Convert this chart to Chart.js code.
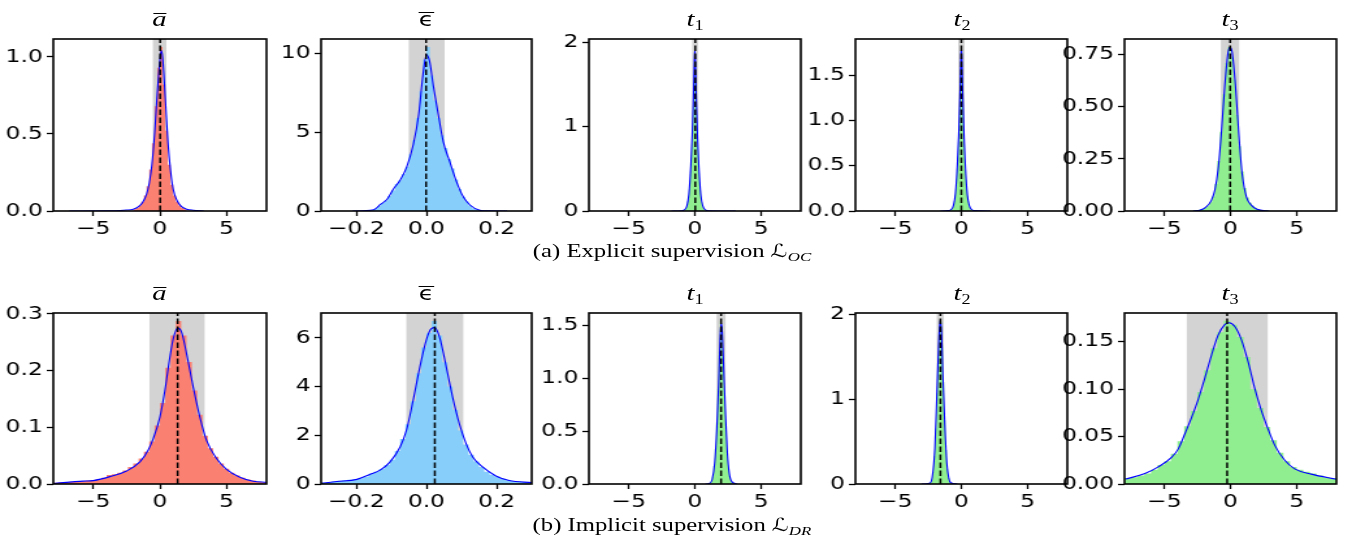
<!DOCTYPE html>
<html>
<head>
<meta charset="utf-8">
<title>Parameter distributions</title>
<script src="https://cdn.jsdelivr.net/npm/chart.js@4.4.1/dist/chart.umd.min.js"></script>
<style>
  html, body { margin: 0; padding: 0; background: #fff; }
  body { width: 1347px; height: 549px; overflow: hidden; position: relative; }
  #fig { position: absolute; left: 0; top: 0; height: 549px; transform-origin: 0 0; }
  #fig canvas { position: absolute; }
  .ttl { position: absolute; width: 100px; text-align: center; font: italic 22px "Liberation Serif", serif; line-height: 22px; color: #000; white-space: nowrap; }
  .ov { display: inline-block; position: relative; }
  .ov::before { content: ""; position: absolute; left: 1px; right: 0; top: 5px; border-top: 1.3px solid #000; }
  .eps { font: normal 19px "DejaVu Sans", sans-serif; line-height: 22px; }
  .eps::before { top: 4px; left: 0; right: 0; }
  .sub { font-style: normal; font-size: 14px; position: relative; top: 4px; }
  .cap { position: absolute; width: 400px; text-align: center; font: 19px "Liberation Serif", serif; line-height: 19px; color: #000; white-space: nowrap; }
  .cal { font-family: "DejaVu Sans", sans-serif; font-style: normal; font-size: 18px; }
  .cap .sub { font-style: italic; font-size: 13px; top: 4px; }
</style>
</head>
<body>
<div id="fig"></div>
<script>
// the figure is laid out narrow and stretched sideways as a whole
const STRETCH = 1.3;
const AXIS_W = 50, AXIS_H = 30, PAD_T = 12, PAD_R = 4;

const xTicksWide = [-5, 0, 5];
const xLabelsWide = ['−5', '0', '5'];
const xTicksEps = [-0.2, 0, 0.2];
const xLabelsEps = ['−0.2', '0.0', '0.2'];

// ---- (a) explicit supervision ----
// a-bar
const expAKdeX = [-6.8, -4, -3, -2.5, -2, -1.6, -1.3, -1.0, -0.8, -0.6, -0.4, -0.2, 0, 0.1, 0.2, 0.4, 0.6, 0.8, 1.0, 1.3, 1.6, 2, 2.5, 3.3];
const expAKdeY = [0, 0.001, 0.003, 0.006, 0.012, 0.028, 0.055, 0.11, 0.18, 0.3, 0.5, 0.76, 0.98, 1.04, 1.0, 0.74, 0.45, 0.26, 0.14, 0.065, 0.03, 0.012, 0.005, 0];
const expAHist = [0.012, 0.02, 0.035, 0.06, 0.1, 0.16, 0.27, 0.44, 0.68, 0.93, 1.064, 0.82, 0.52, 0.3, 0.17, 0.1, 0.06, 0.035, 0.02, 0.012];
const expABins = [-2.0, 0.2];
const expABand = [-0.55, 0.5];
const expAMean = 0.02;
const expAYTicks = [0, 0.5, 1.0];
const expAYLabels = ['0.0', '0.5', '1.0'];

// epsilon-bar
const expEKdeX = [-0.21, -0.15, -0.131, -0.112, -0.094, -0.075, -0.056, -0.037, -0.022, -0.01, 0, 0.009, 0.02, 0.034, 0.048, 0.067, 0.086, 0.105, 0.124, 0.152, 0.18, 0.23];
const expEKdeY = [0, 0.08, 0.42, 0.75, 1.4, 1.95, 2.8, 4.25, 6.1, 8.6, 9.9, 9.5, 7.9, 6.1, 4.4, 3.1, 1.85, 0.9, 0.38, 0.05, 0.005, 0];
const expEHist = [0.0, 0.01, 0.02, 0.04, 0.07, 0.15, 0.32, 0.5, 0.66, 0.95, 1.3, 1.72, 1.95, 2.35, 2.8, 3.6, 4.5, 5.9, 7.6, 9.6, 10.4, 8.6, 7.0, 5.9, 4.8, 4.0, 3.3, 2.7, 2.0, 1.4, 0.9, 0.6, 0.35, 0.18, 0.09, 0.05, 0.03, 0.02, 0.01, 0.0];
const expEBins = [-0.2, 0.01];
const expEBand = [-0.051, 0.052];
const expEMean = -0.001;
const expEYTicks = [0, 5, 10];
const expEYLabels = ['0', '5', '10'];

// t1
const expT1KdeX = [-1.76, -1.0, -0.8, -0.6, -0.45, -0.3, -0.2, -0.1, -0.03, 0, 0.03, 0.1, 0.2, 0.3, 0.45, 0.6, 0.8, 1.0, 3.1];
const expT1KdeY = [0, 0.003, 0.012, 0.06, 0.2, 0.55, 0.9, 1.4, 1.82, 1.9, 1.82, 1.38, 0.88, 0.53, 0.19, 0.06, 0.012, 0.003, 0];
const expT1Hist = [0.01, 0.02, 0.03, 0.05, 0.08, 0.12, 0.18, 0.26, 0.36, 0.48, 0.62, 0.8, 1.0, 1.25, 1.55, 1.94, 1.88, 1.52, 1.22, 0.98, 0.78, 0.6, 0.46, 0.34, 0.25, 0.17, 0.11, 0.07, 0.045, 0.03, 0.02, 0.01];
const expT1Bins = [-0.8, 0.05];
const expT1Band = [-0.22, 0.27];
const expT1Mean = 0.03;
const expT1YTicks = [0, 1, 2];
const expT1YLabels = ['0', '1', '2'];

// t2
const expT2KdeX = [-1.58, -1.0, -0.8, -0.6, -0.45, -0.3, -0.2, -0.1, -0.03, 0, 0.03, 0.1, 0.2, 0.3, 0.45, 0.6, 0.8, 1.0, 2.2];
const expT2KdeY = [0, 0.004, 0.014, 0.06, 0.19, 0.52, 0.85, 1.32, 1.72, 1.8, 1.72, 1.3, 0.84, 0.5, 0.18, 0.06, 0.014, 0.004, 0];
const expT2Hist = [0.01, 0.02, 0.03, 0.045, 0.07, 0.11, 0.17, 0.25, 0.35, 0.47, 0.6, 0.76, 0.95, 1.18, 1.45, 1.81, 1.78, 1.45, 1.16, 0.93, 0.74, 0.58, 0.45, 0.34, 0.25, 0.17, 0.11, 0.07, 0.045, 0.03, 0.02, 0.01];
const expT2Bins = [-0.8, 0.05];
const expT2Band = [-0.25, 0.25];
const expT2Mean = 0.0;
const expT2YTicks = [0, 0.5, 1.0, 1.5];
const expT2YLabels = ['0.0', '0.5', '1.0', '1.5'];

// t3
const expT3KdeX = [-2.8, -2.3, -1.9, -1.45, -1.18, -0.93, -0.68, -0.43, -0.18, -0.03, 0.13, 0.38, 0.63, 0.88, 1.21, 1.59, 2.0, 2.9];
const expT3KdeY = [0, 0.004, 0.016, 0.05, 0.1, 0.2, 0.38, 0.6, 0.76, 0.785, 0.76, 0.6, 0.37, 0.18, 0.066, 0.027, 0.008, 0];
const expT3Hist = [0.001, 0.002, 0.004, 0.006, 0.01, 0.016, 0.025, 0.042, 0.07, 0.13, 0.24, 0.38, 0.56, 0.71, 0.787, 0.74, 0.63, 0.46, 0.31, 0.19, 0.11, 0.065, 0.04, 0.025, 0.015, 0.009, 0.005, 0.003, 0.002, 0.001];
const expT3Bins = [-3.0, 0.2];
const expT3Band = [-0.73, 0.68];
const expT3Mean = -0.02;
const expT3YTicks = [0, 0.25, 0.5, 0.75];
const expT3YLabels = ['0.00', '0.25', '0.50', '0.75'];

// ---- (b) implicit supervision ----
// a-bar
const impAKdeX = [-8, -5.75, -5, -3.75, -2.5, -1.5, -0.875, -0.5, 0, 0.375, 0.75, 1.0, 1.33, 1.625, 2.0, 2.5, 3.0, 3.5, 4.25, 5.0, 6.0, 7.0, 8];
const impAKdeY = [0.001, 0.005, 0.006, 0.013, 0.023, 0.039, 0.06, 0.08, 0.118, 0.165, 0.224, 0.256, 0.275, 0.268, 0.23, 0.171, 0.118, 0.077, 0.045, 0.026, 0.012, 0.005, 0.003];
const impAHist = [0.002, 0.003, 0.003, 0.004, 0.004, 0.005, 0.006, 0.007, 0.009, 0.011, 0.016, 0.017, 0.02, 0.024, 0.03, 0.036, 0.045, 0.057, 0.075, 0.103, 0.143, 0.205, 0.262, 0.2876, 0.262, 0.215, 0.165, 0.122, 0.085, 0.063, 0.048, 0.036, 0.027, 0.02, 0.015, 0.011, 0.008, 0.006, 0.004, 0.003];
const impABins = [-8, 0.4];
const impABand = [-0.8, 3.38];
const impAMean = 1.33;
const impAYTicks = [0, 0.1, 0.2, 0.3];
const impAYLabels = ['0.0', '0.1', '0.2', '0.3'];

// epsilon-bar
const impEKdeX = [-0.3, -0.255, -0.198, -0.16, -0.132, -0.104, -0.075, -0.057, -0.038, -0.019, 0, 0.014, 0.024, 0.038, 0.057, 0.075, 0.094, 0.113, 0.132, 0.16, 0.198, 0.236, 0.3];
const impEKdeY = [0.03, 0.1, 0.19, 0.4, 0.57, 0.9, 1.52, 2.2, 3.42, 4.78, 5.93, 6.38, 6.42, 6.0, 4.78, 3.55, 2.47, 1.66, 1.11, 0.7, 0.33, 0.14, 0.06];
const impEHist = [0.05, 0.08, 0.1, 0.13, 0.15, 0.17, 0.19, 0.24, 0.3, 0.42, 0.5, 0.62, 0.78, 1.0, 1.35, 1.85, 2.45, 3.4, 4.55, 5.6, 6.2, 6.695, 6.1, 5.0, 4.0, 3.05, 2.2, 1.62, 1.2, 0.92, 0.7, 0.5, 0.38, 0.3, 0.22, 0.15, 0.12, 0.1, 0.08, 0.06];
const impEBins = [-0.3, 0.015];
const impEBand = [-0.058, 0.106];
const impEMean = 0.024;
const impEYTicks = [0, 2, 4, 6];
const impEYLabels = ['0', '2', '4', '6'];

// t1
const impT1KdeX = [0.8, 1.1, 1.3, 1.5, 1.65, 1.8, 1.9, 1.98, 2.06, 2.15, 2.3, 2.45, 2.6, 2.8, 3.2];
const impT1KdeY = [0, 0.005, 0.04, 0.2, 0.5, 0.95, 1.35, 1.52, 1.45, 1.18, 0.7, 0.3, 0.1, 0.02, 0];
const impT1Hist = [0.002, 0.008, 0.03, 0.07, 0.17, 0.33, 0.58, 0.9, 1.25, 1.54, 1.48, 1.2, 0.86, 0.55, 0.3, 0.15, 0.07, 0.03, 0.01, 0.003];
const impT1Bins = [1.0, 0.1];
const impT1Band = [1.63, 2.34];
const impT1Mean = 1.98;
const impT1YTicks = [0, 0.5, 1.0, 1.5];
const impT1YLabels = ['0.0', '0.5', '1.0', '1.5'];

// t2
const impT2KdeX = [-3.0, -2.4, -2.2, -2.0, -1.85, -1.72, -1.6, -1.5, -1.4, -1.25, -1.1, -0.95, -0.8, -0.3];
const impT2KdeY = [0, 0.01, 0.08, 0.42, 1.05, 1.62, 1.93, 1.78, 1.3, 0.7, 0.25, 0.07, 0.015, 0];
const impT2Hist = [0.001, 0.004, 0.015, 0.05, 0.14, 0.33, 0.65, 1.07, 1.5, 1.85, 1.919, 1.64, 1.2, 0.75, 0.4, 0.18, 0.07, 0.025, 0.008, 0.002];
const impT2Bins = [-2.6, 0.1];
const impT2Band = [-1.88, -1.3];
const impT2Mean = -1.58;
const impT2YTicks = [0, 1, 2];
const impT2YLabels = ['0', '1', '2'];

// t3
const impT3KdeX = [-7.91, -6.46, -5.45, -4.45, -3.94, -3.44, -2.94, -2.44, -1.93, -1.43, -0.93, -0.43, -0.1, 0.33, 0.83, 1.33, 1.83, 2.34, 2.84, 3.34, 4.1, 4.85, 6.1, 8.04];
const impT3KdeY = [0.0052, 0.011, 0.018, 0.028, 0.037, 0.053, 0.07, 0.089, 0.112, 0.136, 0.157, 0.168, 0.17, 0.166, 0.152, 0.129, 0.101, 0.077, 0.058, 0.041, 0.025, 0.016, 0.0104, 0.0049];
const impT3Hist = [0.006, 0.007, 0.009, 0.011, 0.015, 0.02, 0.024, 0.032, 0.045, 0.061, 0.077, 0.097, 0.12, 0.143, 0.16, 0.172, 0.168, 0.155, 0.134, 0.1, 0.08, 0.06, 0.046, 0.033, 0.024, 0.018, 0.015, 0.013, 0.011, 0.009, 0.007, 0.006];
const impT3Bins = [-8, 0.5];
const impT3Band = [-3.32, 2.84];
const impT3Mean = -0.25;
const impT3YTicks = [0, 0.05, 0.1, 0.15];
const impT3YLabels = ['0.00', '0.05', '0.10', '0.15'];

const SALMON = '#fa8072', SKY = '#87cefa', GREEN = '#90ee90';

// plot-area edges in page pixels
const cols = [[53, 266], [321, 532], [589, 801], [856, 1068], [1124, 1336]];
const rows = [[37, 211], [311, 484]];

const wide = { xr: [-8, 8], xTicks: xTicksWide, xLabels: xLabelsWide };
const narrow = { xr: [-0.3, 0.3], xTicks: xTicksEps, xLabels: xLabelsEps };

const panels = [
  { row: 0, col: 0, title: 'a', color: SALMON, ymax: 1.117, ...wide, kde: [expAKdeX, expAKdeY], hist: expAHist, bins: expABins, band: expABand, mean: expAMean, yTicks: expAYTicks, yLabels: expAYLabels },
  { row: 0, col: 1, title: 'eps', color: SKY, ymax: 10.92, ...narrow, kde: [expEKdeX, expEKdeY], hist: expEHist, bins: expEBins, band: expEBand, mean: expEMean, yTicks: expEYTicks, yLabels: expEYLabels },
  { row: 0, col: 2, title: 't1', color: GREEN, ymax: 2.04, ...wide, kde: [expT1KdeX, expT1KdeY], hist: expT1Hist, bins: expT1Bins, band: expT1Band, mean: expT1Mean, yTicks: expT1YTicks, yLabels: expT1YLabels },
  { row: 0, col: 3, title: 't2', color: GREEN, ymax: 1.905, ...wide, kde: [expT2KdeX, expT2KdeY], hist: expT2Hist, bins: expT2Bins, band: expT2Band, mean: expT2Mean, yTicks: expT2YTicks, yLabels: expT2YLabels },
  { row: 0, col: 4, title: 't3', color: GREEN, ymax: 0.826, ...wide, kde: [expT3KdeX, expT3KdeY], hist: expT3Hist, bins: expT3Bins, band: expT3Band, mean: expT3Mean, yTicks: expT3YTicks, yLabels: expT3YLabels },
  { row: 1, col: 0, title: 'a', color: SALMON, ymax: 0.302, ...wide, kde: [impAKdeX, impAKdeY], hist: impAHist, bins: impABins, band: impABand, mean: impAMean, yTicks: impAYTicks, yLabels: impAYLabels },
  { row: 1, col: 1, title: 'eps', color: SKY, ymax: 7.03, ...narrow, kde: [impEKdeX, impEKdeY], hist: impEHist, bins: impEBins, band: impEBand, mean: impEMean, yTicks: impEYTicks, yLabels: impEYLabels },
  { row: 1, col: 2, title: 't1', color: GREEN, ymax: 1.617, ...wide, kde: [impT1KdeX, impT1KdeY], hist: impT1Hist, bins: impT1Bins, band: impT1Band, mean: impT1Mean, yTicks: impT1YTicks, yLabels: impT1YLabels },
  { row: 1, col: 3, title: 't2', color: GREEN, ymax: 2.015, ...wide, kde: [impT2KdeX, impT2KdeY], hist: impT2Hist, bins: impT2Bins, band: impT2Band, mean: impT2Mean, yTicks: impT2YTicks, yLabels: impT2YLabels },
  { row: 1, col: 4, title: 't3', color: GREEN, ymax: 0.1805, ...wide, kde: [impT3KdeX, impT3KdeY], hist: impT3Hist, bins: impT3Bins, band: impT3Band, mean: impT3Mean, yTicks: impT3YTicks, yLabels: impT3YLabels },
];

const titleHtml = {
  a: '<span class="ov">a</span>',
  eps: '<span class="ov eps">ϵ</span>',
  t1: 't<span class="sub">1</span>',
  t2: 't<span class="sub">2</span>',
  t3: 't<span class="sub">3</span>',
};

const captions = [
  { html: '(a) Explicit supervision <span class="cal">ℒ</span><span class="sub">OC</span>', base: 257 },
  { html: '(b) Implicit supervision <span class="cal">ℒ</span><span class="sub">DR</span>', base: 531 },
];

function toPoints(xs, ys) {
  return xs.map((x, i) => ({ x, y: ys[i] }));
}

// left bin edges, closed off at the right edge of the last bin
function histPoints(bins, heights) {
  const [start, width] = bins;
  const out = heights.map((h, i) => ({ x: start + i * width, y: h }));
  out.push({ x: start + heights.length * width, y: 0 });
  return out;
}

// all four spines
const frame = {
  id: 'frame',
  afterDraw(chart) {
    const { ctx, chartArea: a } = chart;
    const l = Math.round(a.left), t = Math.round(a.top);
    const r = Math.round(a.right), b = Math.round(a.bottom);
    ctx.save();
    ctx.strokeStyle = '#000';
    ctx.lineWidth = 1.6;
    ctx.strokeRect(l, t, r - l, b - t);
    ctx.restore();
  }
};

function axis(min, max, ticks, labels, horizontal) {
  return {
    type: 'linear',
    min, max,
    afterBuildTicks: sc => { sc.ticks = ticks.map(v => ({ value: v })); },
    afterFit: sc => { if (horizontal) sc.height = AXIS_H; else sc.width = AXIS_W; },
    ticks: {
      callback: (v, i) => labels[i],
      font: { family: 'DejaVu Sans', size: 18 },
      color: '#000',
      padding: 3,
      maxRotation: 0,
      autoSkip: false,
    },
    grid: { display: true, drawOnChartArea: false, drawTicks: true, tickLength: 5, tickWidth: 1.3, tickColor: '#000' },
    border: { display: false },
  };
}

const fig = document.getElementById('fig');
fig.style.width = (1347 / STRETCH) + 'px';
fig.style.transform = 'scaleX(' + STRETCH + ')';

panels.forEach(p => {
  const [L, R] = cols[p.col];
  const [T, B] = rows[p.row];
  const w = Math.round((R - L) / STRETCH + AXIS_W + PAD_R);
  const h = PAD_T + (B - T) + AXIS_H;

  const cv = document.createElement('canvas');
  cv.width = w;
  cv.height = h;
  cv.style.left = (L / STRETCH - AXIS_W) + 'px';
  cv.style.top = (T - PAD_T) + 'px';
  cv.style.width = w + 'px';
  cv.style.height = h + 'px';
  fig.appendChild(cv);

  new Chart(cv, {
    type: 'line',
    data: {
      datasets: [
        { // shaded interval
          data: [{ x: p.band[0], y: p.ymax }, { x: p.band[1], y: p.ymax }],
          fill: 'origin', backgroundColor: '#d3d3d3',
          borderColor: 'rgba(0,0,0,0)', borderWidth: 0, pointRadius: 0, order: 3
        },
        { // histogram
          data: histPoints(p.bins, p.hist), stepped: true,
          fill: 'origin', backgroundColor: p.color,
          borderColor: 'rgba(0,0,0,0)', borderWidth: 0, pointRadius: 0, order: 2
        },
        { // density estimate
          data: toPoints(p.kde[0], p.kde[1]),
          borderColor: '#0000ff', borderWidth: 1.1, pointRadius: 0,
          cubicInterpolationMode: 'monotone', fill: false, order: 1
        },
        { // mean
          data: [{ x: p.mean, y: 0 }, { x: p.mean, y: p.ymax }],
          borderColor: '#000', borderWidth: 1.5, borderDash: [5.5, 2.5],
          pointRadius: 0, fill: false, order: 0
        },
      ]
    },
    options: {
      responsive: false,
      animation: false,
      devicePixelRatio: 1,
      layout: { padding: { top: PAD_T, right: PAD_R, left: 0, bottom: 0 } },
      plugins: { legend: { display: false }, tooltip: { enabled: false } },
      scales: {
        x: axis(p.xr[0], p.xr[1], p.xTicks, p.xLabels, true),
        y: axis(0, p.ymax, p.yTicks, p.yLabels, false),
      }
    },
    plugins: [frame]
  });

  const t = document.createElement('div');
  t.className = 'ttl';
  t.innerHTML = titleHtml[p.title];
  t.style.left = ((L + R) / 2 / STRETCH - 50) + 'px';
  t.style.top = (T - 11 - 18.4) + 'px';
  fig.appendChild(t);
});

captions.forEach(c => {
  const d = document.createElement('div');
  d.className = 'cap';
  d.innerHTML = c.html;
  d.style.left = (672 / STRETCH - 200) + 'px';
  d.style.top = (c.base - 16) + 'px';
  fig.appendChild(d);
});
</script>
</body>
</html>
